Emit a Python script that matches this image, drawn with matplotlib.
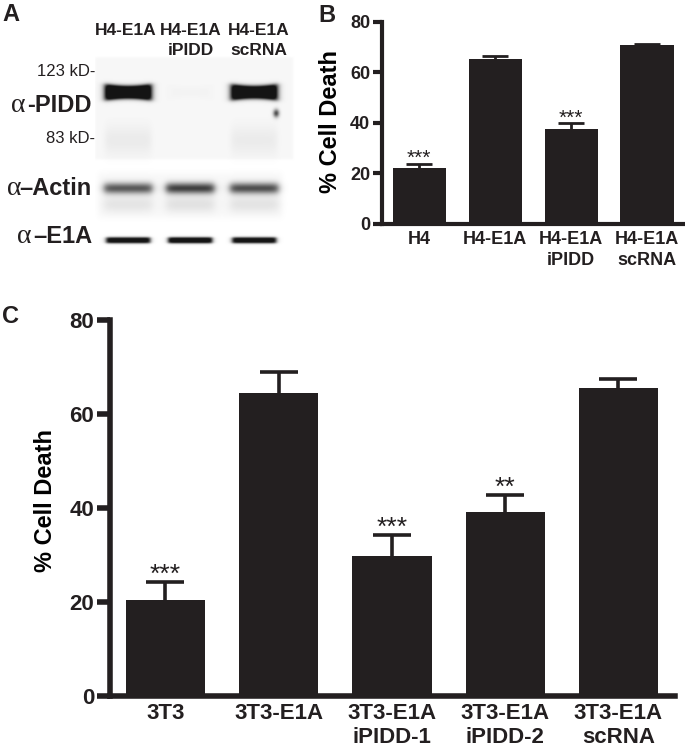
import numpy as np
import matplotlib
matplotlib.use("Agg")
import matplotlib.pyplot as plt

# panel B: H4 cells
b_groups = ["H4", "H4-E1A", "H4-E1A\niPIDD", "H4-E1A\nscRNA"]
b_death = [22.0, 65.1, 37.4, 70.6]
b_sem = [1.7, 1.4, 2.4, 0.5]
b_stars = ["***", "", "***", ""]

# panel C: 3T3 cells
c_groups = ["3T3", "3T3-E1A", "3T3-E1A\niPIDD-1", "3T3-E1A\niPIDD-2", "3T3-E1A\nscRNA"]
c_death = [20.5, 64.5, 29.8, 39.2, 65.5]
c_sem = [3.7, 4.5, 4.5, 3.6, 1.9]
c_stars = ["***", "", "***", "**", ""]

# panel A: western blot band strength per lane (0 = none, 1 = saturated)
blot_lanes = ["H4-E1A", "H4-E1A\niPIDD", "H4-E1A\nscRNA"]
pidd_signal = [1.0, 0.01, 0.95]
actin_signal = [0.62, 0.72, 0.66]
e1a_signal = [0.88, 0.92, 0.88]

DARK = "#231f20"
W, H = 685, 753

plt.rcParams["font.family"] = ["Liberation Sans", "DejaVu Sans"]
plt.rcParams["font.weight"] = "bold"
plt.rcParams["axes.labelweight"] = "bold"
plt.rcParams["text.color"] = DARK

fig = plt.figure(figsize=(W / 100, H / 100), dpi=100)


def px_rect(x0, y0, x1, y1):
    """figure rect from pixel box (top-left origin)"""
    return [x0 / W, 1 - y1 / H, (x1 - x0) / W, (y1 - y0) / H]


def bar_panel(ax, labels, values, errs, stars, spine_w, tick_len, tick_fs,
              cap, err_w, star_fs, xpad, line_sp):
    x = np.arange(len(values))
    _, caps, _ = ax.errorbar(x, values, yerr=[np.zeros(len(errs)), errs], fmt="none",
                             ecolor=DARK, elinewidth=err_w, capsize=cap,
                             capthick=err_w, zorder=1)
    # only the upper cap is wanted
    for c in caps:
        if np.allclose(c.get_ydata(), values):
            c.set_visible(False)
    ax.bar(x, values, width=0.7, color=DARK, zorder=2)
    for xi, v, e, s in zip(x, values, errs, stars):
        if s:
            ax.text(xi, v + e, s, ha="center", va="baseline", fontsize=star_fs,
                    fontweight="normal", zorder=3)
    ax.set_ylim(0, 80)
    ax.set_xlim(-0.49, len(values) - 0.5)
    ax.set_yticks([0, 20, 40, 60, 80])
    ax.set_xticks(x)
    ax.set_xticklabels(labels)
    for lab in ax.get_xticklabels():
        lab.set_linespacing(line_sp)
    for side in ["top", "right"]:
        ax.spines[side].set_visible(False)
    for side in ["left", "bottom"]:
        ax.spines[side].set_linewidth(spine_w)
        ax.spines[side].set_color(DARK)
    ax.tick_params(axis="y", length=tick_len, width=spine_w, color=DARK,
                   labelsize=tick_fs, pad=2, labelcolor=DARK)
    ax.tick_params(axis="x", length=0, labelsize=tick_fs, pad=xpad, labelcolor=DARK)
    ax.patch.set_alpha(0)


# ---- panel B ----
ax_b = fig.add_axes(px_rect(382, 21.7, 685, 224))
bar_panel(ax_b, b_groups, b_death, b_sem, b_stars, spine_w=3, tick_len=6.5,
          tick_fs=13, cap=9.5, err_w=2, star_fs=15, xpad=5, line_sp=1.35)
ax_b.set_ylabel("% Cell Death", fontsize=17)
ax_b.yaxis.set_label_coords(-0.132, 0.507)

# ---- panel C ----
ax_c = fig.add_axes(px_rect(110, 320, 675, 696))
bar_panel(ax_c, c_groups, c_death, c_sem, c_stars, spine_w=4, tick_len=9.5,
          tick_fs=16, cap=14, err_w=2.6, star_fs=19, xpad=5, line_sp=1.2)
ax_c.set_ylabel("% Cell Death", fontsize=17)
ax_c.yaxis.set_label_coords(-0.094, 0.521)

# ---- panel A: blot ----
ax_a = fig.add_axes(px_rect(95, 55, 295, 255))
xx, yy = np.meshgrid(np.arange(95, 295, 0.5), np.arange(55, 255, 0.5))
lane_x = [128, 190, 254]


def box(d, half, soft):
    return 0.5 * (np.tanh((d + half) / soft) - np.tanh((d - half) / soft))


dark = np.zeros_like(xx)
# faint membrane tone behind the PIDD strip
dark += 0.03 * box(xx - 194, 99, 1) * box(yy - 108, 51, 1)
dark += 0.03 * box(xx - 190, 92, 3) * box(yy - 195, 22, 4)
for cx, p, a, e in zip(lane_x, pidd_signal, actin_signal, e1a_signal):
    prof = box(xx - cx, 23, 3.5)
    # PIDD band, ends a little heavier
    thick = 6.0 + 2.0 * (np.abs(xx - cx) / 23) ** 2
    dark += 1.4 * p * prof * box(yy - 92, thick, 2.2)
    dark += 0.05 * p * prof * np.exp(-((yy - 140) / 15) ** 2)
    # actin band with haze below
    dark += a * box(xx - cx, 24, 4) * np.exp(-((yy - 188) / 5.5) ** 2)
    dark += 0.12 * a * box(xx - cx, 24, 5) * np.exp(-((yy - 204) / 8) ** 2)
    # E1A band, thin
    dark += 1.2 * e * box(xx - cx, 22, 2.5) * box(yy - 240, 2.8, 1.2)
# small spot under the scRNA PIDD band
dark += 0.7 * pidd_signal[2] * np.exp(-(((xx - 276) / 3) ** 2 + ((yy - 113) / 4) ** 2))
dark = np.clip(dark, 0, 0.92)
ax_a.imshow(dark, cmap="gray_r", vmin=0, vmax=1, extent=(95, 295, 255, 55),
            aspect="auto", interpolation="bilinear")
ax_a.set_xlim(95, 295)
ax_a.set_ylim(255, 55)
ax_a.axis("off")


def fx(px):
    return px / W


def fy(py):
    return 1 - py / H


# lane headers
for cx, lab in zip([126, 191, 259], blot_lanes):
    lines = lab.split("\n")
    fig.text(fx(cx), fy(35), lines[0], ha="center", va="baseline", fontsize=12.5)
    if len(lines) > 1:
        fig.text(fx(cx), fy(55), lines[1], ha="center", va="baseline", fontsize=12.5)

# size markers
fig.text(fx(95), fy(76), "123 kD-", ha="right", va="baseline", fontsize=12,
         fontweight="normal")
fig.text(fx(95), fy(143), "83 kD-", ha="right", va="baseline", fontsize=12,
         fontweight="normal")

# antibody labels: serif alpha + bold name
for a_right, base, name in [(26, 112, "-PIDD"), (21, 195, "\u2013Actin"), (31, 243, "\u2013E1A")]:
    fig.text(fx(a_right), fy(base), "\u03b1", ha="right", va="baseline", fontsize=20,
             fontweight="normal", family=["Liberation Serif", "DejaVu Serif"])
    fig.text(fx(92), fy(base), name, ha="right", va="baseline", fontsize=17)

# panel letters
fig.text(fx(2), fy(21), "A", ha="left", va="baseline", fontsize=17)
fig.text(fx(318), fy(22), "B", ha="left", va="baseline", fontsize=17)
fig.text(fx(2), fy(323), "C", ha="left", va="baseline", fontsize=17)

fig.savefig("out.png", dpi=100)
